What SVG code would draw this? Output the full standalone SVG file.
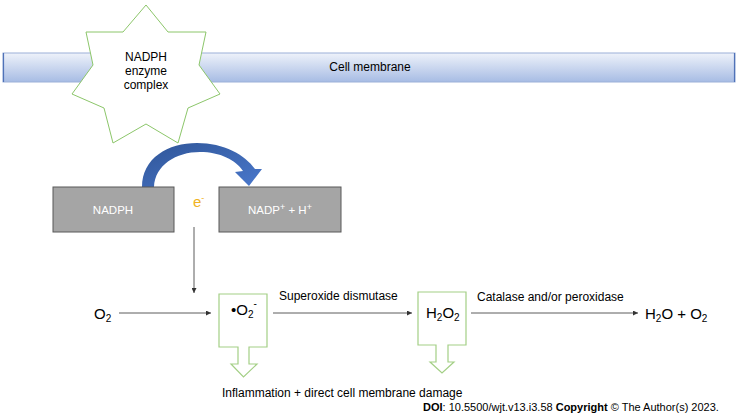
<svg xmlns="http://www.w3.org/2000/svg" width="740" height="419" viewBox="0 0 740 419">
<defs>
<linearGradient id="memGrad" x1="0" y1="0" x2="0" y2="1">
<stop offset="0" stop-color="#EEF2FA"/>
<stop offset="1" stop-color="#A7BCE4"/>
</linearGradient>
<linearGradient id="blueGrad" x1="0" y1="0" x2="1" y2="1">
<stop offset="0" stop-color="#2F5597"/>
<stop offset="1" stop-color="#4A78CC"/>
</linearGradient>
<marker id="ah" viewBox="0 0 10 10" refX="10" refY="5" markerWidth="5" markerHeight="5" markerUnits="userSpaceOnUse" orient="auto">
<path d="M0,0 L10,5 L0,10 Z" fill="#333333"/>
</marker>
<style>
text{font-family:"Liberation Sans",Arial,sans-serif;fill:#000}
.lbl{font-size:12px}
.chem{font-size:15px}
.box{fill:#A5A5A5;stroke:#595959;stroke-width:1}
.boxtxt{font-size:11.5px;fill:#FFFFFF}
.callout{fill:#FFFFFF;stroke:#A3CF85;stroke-width:1.2}
.conn{stroke:#333333;stroke-width:0.8;fill:none;marker-end:url(#ah)}
</style>
</defs>
<rect width="740" height="419" fill="#FFFFFF"/>

<g id="membrane">
<rect x="3" y="53" width="732" height="29" fill="url(#memGrad)" stroke="#9CB0D8" stroke-width="1"/>
<line x1="3.5" y1="53" x2="3.5" y2="82" stroke="#4F72B8" stroke-width="1.2"/>
<line x1="734.5" y1="53" x2="734.5" y2="82" stroke="#4F72B8" stroke-width="1.2"/>
<text class="lbl" x="370" y="71" text-anchor="middle">Cell membrane</text>
</g>

<g id="nadph-enzyme-complex">
<polygon points="146,5 168,32 206,32 199,65 220,94 188,108 178,143 146,124 113,143 104,108 72,94 93,65 86,32 123,32" fill="#FFFFFF" stroke="#8CC66A" stroke-width="1"/>
<text class="lbl" text-anchor="middle"><tspan x="146" y="61">NADPH</tspan><tspan x="146" y="75">enzyme</tspan><tspan x="146" y="89">complex</tspan></text>
</g>

<g id="electron-transfer">
<path d="M142,187 C142,158 168,143 197,143 C224,143 245,155 255,169 L262,169 L249,186 L235,172 L243,171 C236,160 220,152 200,152 C176,152 155,165 154,187 Z" fill="url(#blueGrad)"/>
</g>

<g id="nadph">
<rect class="box" x="53" y="187" width="121" height="45"/>
<text class="boxtxt" x="113" y="214" text-anchor="middle">NADPH</text>
</g>

<g id="electron">
<text x="193" y="207" font-size="15" style="fill:#F0B323">e<tspan font-size="9" dy="-6">-</tspan></text>
</g>

<g id="nadp">
<rect class="box" x="219" y="187" width="122" height="45"/>
<text class="boxtxt" x="280" y="214" text-anchor="middle">NADP<tspan font-size="9" dy="-4">+</tspan><tspan dy="4"> + H</tspan><tspan font-size="9" dy="-4">+</tspan></text>
</g>

<g id="o2">
<text class="chem" x="94" y="319">O<tspan font-size="10" dy="3">2</tspan></text>
</g>

<g id="superoxide">
<path class="callout" d="M219,294 H267 V347 H249 V364 H257 L243.5,377 L231,364 H238 V347 H219 Z"/>
<text class="chem" x="231" y="315">•O<tspan font-size="10" dy="3">2</tspan><tspan font-size="10" dy="-11">-</tspan></text>
</g>

<g id="h2o2">
<path class="callout" d="M418,292 H466 V345 H448 V362 H454 L442,373 L430,362 H436 V345 H418 Z"/>
<text class="chem" x="426" y="318">H<tspan font-size="10" dy="3">2</tspan><tspan dy="-3">O</tspan><tspan font-size="10" dy="3">2</tspan></text>
</g>

<g id="products">
<text class="chem" x="645" y="319">H<tspan font-size="10" dy="3">2</tspan><tspan dy="-3">O + O</tspan><tspan font-size="10" dy="3">2</tspan></text>
</g>

<g id="inflammation">
<text class="lbl" x="222" y="397">Inflammation + direct cell membrane damage</text>
</g>

<g id="connectors">
<line class="conn" x1="194" y1="227" x2="194" y2="293"/>
<line class="conn" x1="119" y1="313" x2="211" y2="313"/>
<line class="conn" x1="273" y1="313" x2="412" y2="313"/>
<text class="lbl" x="279" y="300">Superoxide dismutase</text>
<line class="conn" x1="471" y1="313" x2="638" y2="313"/>
<text class="lbl" x="477" y="301">Catalase and/or peroxidase</text>
</g>

<g id="footer">
<text x="423" y="411" font-size="11"><tspan font-weight="bold">DOI</tspan>: 10.5500/wjt.v13.i3.58 <tspan font-weight="bold">Copyright</tspan> © The Author(s) 2023.</text>
</g>
</svg>
